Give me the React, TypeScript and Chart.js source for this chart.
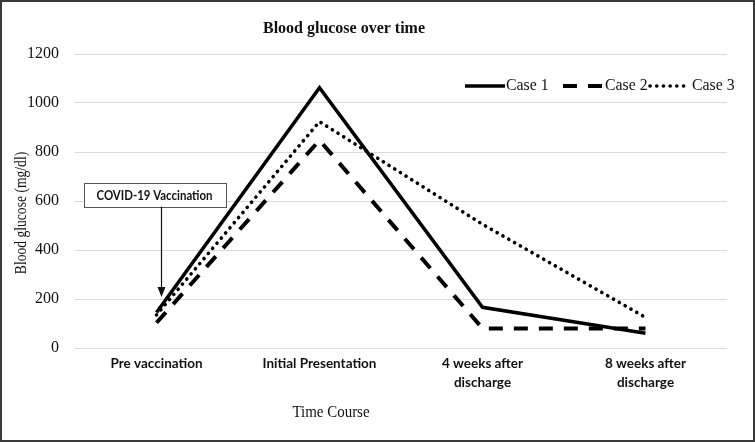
import React, { useEffect, useRef } from "react";
import { Chart, registerables } from "chart.js";

Chart.register(...registerables);

const categories: (string | string[])[] = [
  "Pre vaccination",
  "Initial Presentation",
  ["4 weeks after", "discharge"],
  ["8 weeks after", "discharge"],
];
const case1 = [145, 1062, 166, 60];
const case2 = [103, 848, 80, 80];
const case3 = [135, 924, 505, 125];
const seriesNames = ["Case 1", "Case 2", "Case 3"];
const yTicks = [0, 200, 400, 600, 800, 1000, 1200];

const titleText = "Blood glucose over time";
const yTitle = "Blood glucose (mg/dl)";
const xTitle = "Time Course";
const annotText = "COVID-19 Vaccination";
const annotTop = 675;
const annotBottom = 577;
const arrowTip = 208;

const SERIF = "'Liberation Serif', 'Times New Roman', serif";
const SANS = "Lato, 'Open Sans', sans-serif";

const dashStyles = [
  { dash: [] as number[], cap: "butt" as CanvasLineCap, width: 3.5 },
  { dash: [14, 11], cap: "butt" as CanvasLineCap, width: 4 },
  { dash: [0.1, 6.6], cap: "round" as CanvasLineCap, width: 3.6 },
];

function squeezedText(ctx: CanvasRenderingContext2D, text: string, x: number, y: number, font: string, sx: number, align: CanvasTextAlign) {
  ctx.save();
  ctx.translate(x, y);
  ctx.scale(sx, 1);
  ctx.font = font;
  ctx.textAlign = align;
  ctx.textBaseline = "middle";
  ctx.fillText(text, 0, 0);
  ctx.restore();
}

const decorPlugin = {
  id: "decor",
  beforeDraw(chart: any) {
    const ctx = chart.ctx;
    ctx.save();
    ctx.fillStyle = "#ffffff";
    ctx.fillRect(0, 0, chart.width, chart.height);
    ctx.restore();
  },
  afterDraw(chart: any) {
    const ctx: CanvasRenderingContext2D = chart.ctx;
    const xs = chart.scales.x;
    const ys = chart.scales.y;
    ctx.save();
    // frame
    ctx.strokeStyle = "#3a3a3a";
    ctx.lineWidth = 2;
    ctx.strokeRect(1, 1, chart.width - 2, chart.height - 2);

    ctx.fillStyle = "#111";
    // title
    squeezedText(ctx, titleText, 344, 29, `bold 17px ${SERIF}`, 0.94, "center");

    // y title
    ctx.save();
    ctx.translate(22, 213);
    ctx.rotate(-Math.PI / 2);
    squeezedText(ctx, yTitle, 0, 0, `17px ${SERIF}`, 0.8, "center");
    ctx.restore();

    // x title
    squeezedText(ctx, xTitle, 331, 413, `17px ${SERIF}`, 0.88, "center");

    // legend
    const legY = 86;
    const items = [
      { x0: 465, x1: 505, tx: 506 },
      { x0: 563, x1: 604, tx: 605 },
      { x0: 650, x1: 688, tx: 692 },
    ];
    items.forEach((it, i) => {
      const st = dashStyles[i];
      ctx.save();
      ctx.strokeStyle = "#000";
      ctx.lineWidth = st.width;
      ctx.lineCap = st.cap;
      ctx.setLineDash(st.dash);
      ctx.beginPath();
      ctx.moveTo(it.x0, legY);
      ctx.lineTo(it.x1, legY);
      ctx.stroke();
      ctx.restore();
      ctx.fillStyle = "#111";
      squeezedText(ctx, seriesNames[i], it.tx, legY, `17px ${SERIF}`, 0.93, "left");
    });

    // annotation box
    const cx = xs.getPixelForValue(0);
    const top = ys.getPixelForValue(annotTop);
    const bottom = ys.getPixelForValue(annotBottom);
    const left = cx - 73;
    const right = cx + 69;
    ctx.fillStyle = "#fff";
    ctx.fillRect(left, top, right - left, bottom - top);
    ctx.strokeStyle = "#555";
    ctx.lineWidth = 1;
    ctx.strokeRect(Math.round(left) + 0.5, Math.round(top) + 0.5, Math.round(right - left), Math.round(bottom - top));
    ctx.fillStyle = "#111";
    squeezedText(ctx, annotText, (left + right) / 2, (top + bottom) / 2 + 1, `bold 13px ${SANS}`, 0.88, "center");

    // arrow
    const ax = Math.round(cx + 4) + 0.5;
    const tipY = ys.getPixelForValue(arrowTip);
    ctx.strokeStyle = "#111";
    ctx.lineWidth = 1.2;
    ctx.beginPath();
    ctx.moveTo(ax, bottom);
    ctx.lineTo(ax, tipY - 8);
    ctx.stroke();
    ctx.fillStyle = "#111";
    ctx.beginPath();
    ctx.moveTo(ax, tipY);
    ctx.lineTo(ax - 4, tipY - 10);
    ctx.lineTo(ax + 4, tipY - 10);
    ctx.closePath();
    ctx.fill();
    ctx.restore();
  },
};

export default function App() {
  const ref = useRef<HTMLCanvasElement | null>(null);
  useEffect(() => {
    document.body.style.margin = "0";
    const canvas = ref.current;
    if (!canvas) return;
    const values = [case1, case2, case3];
    const chart = new Chart(canvas, {
      type: "line",
      data: {
        labels: categories as any,
        datasets: values.map((v, i) => ({
          label: seriesNames[i],
          data: v,
          borderColor: "#000",
          backgroundColor: "#000",
          borderWidth: dashStyles[i].width,
          borderDash: dashStyles[i].dash,
          borderCapStyle: dashStyles[i].cap,
          borderJoinStyle: "miter",
          pointRadius: 0,
          tension: 0,
          fill: false,
        })),
      },
      options: {
        animation: false,
        responsive: false,
        devicePixelRatio: 1,
        layout: { padding: { top: 54, right: 28, left: 0, bottom: 0 } },
        plugins: {
          legend: { display: false },
          title: { display: false },
          tooltip: { enabled: false },
        },
        scales: {
          x: {
            offset: true,
            grid: { display: false, drawTicks: false },
            border: { display: false },
            ticks: {
              padding: 7,
              maxRotation: 0,
              autoSkip: false,
              color: "#111",
              font: { family: SANS, size: 13.5, weight: "bold", lineHeight: 1.35 },
            },
            afterFit: (s: any) => {
              s.height = 94;
            },
          },
          y: {
            min: 0,
            max: 1200,
            afterBuildTicks: (s: any) => {
              s.ticks = yTicks.map((v) => ({ value: v }));
            },
            grid: { color: "#d9d9d9", lineWidth: 1, drawTicks: false },
            border: { display: false },
            ticks: {
              padding: 16,
              color: "#111",
              font: { family: SERIF, size: 16 },
              callback: (v: any) => String(v),
            },
            afterFit: (s: any) => {
              s.width = 75;
            },
          },
        },
      },
      plugins: [decorPlugin],
    });
    return () => chart.destroy();
  }, []);
  return (
    <div style={{ position: "absolute", left: 0, top: 0, width: 755, height: 442 }}>
      <canvas ref={ref} width={755} height={442} />
    </div>
  );
}
